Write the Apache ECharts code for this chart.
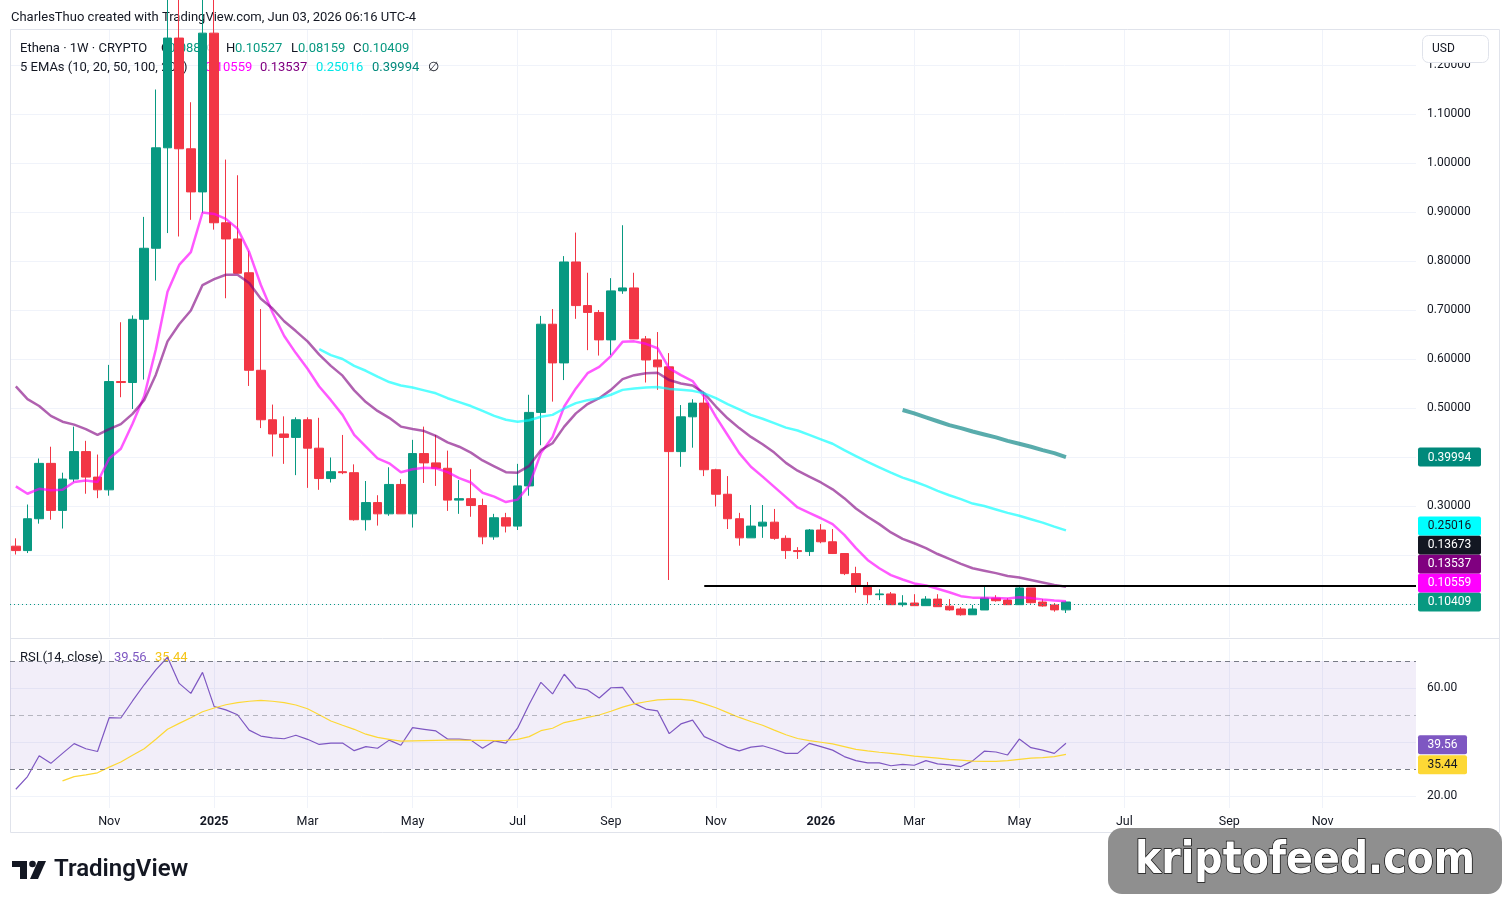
<!DOCTYPE html>
<html>
<head>
<meta charset="utf-8">
<title>Ethena 1W</title>
<script src="https://cdn.jsdelivr.net/npm/echarts@6/dist/echarts.min.js"></script>
<style>
html,body{margin:0;padding:0;background:#fff;}
#chart{width:1504px;height:904px;}
</style>
</head>
<body>
<div id="chart"></div>
<script>
// weekly bars, first bar = week of 2024-09-09
var firstWeek = Date.UTC(2024, 8, 9);
var weekSlots = 121;
var monthNames = ['Jan','Feb','Mar','Apr','May','Jun','Jul','Aug','Sep','Oct','Nov','Dec'];

var open = [0.218,0.209,0.274,0.387,0.291,0.355,0.411,0.359,0.333,0.554,
	0.552,0.681,0.826,1.031,1.255,1.029,0.941,1.265,0.878,0.845,
	0.776,0.577,0.476,0.447,0.440,0.476,0.418,0.356,0.370,0.368,
	0.272,0.307,0.284,0.344,0.284,0.407,0.388,0.377,0.312,0.315,
	0.301,0.237,0.276,0.259,0.341,0.491,0.671,0.592,0.798,0.709,
	0.695,0.639,0.739,0.745,0.641,0.598,0.584,0.411,0.482,0.510,
	0.374,0.324,0.274,0.235,0.259,0.267,0.234,0.209,0.207,0.251,
	0.227,0.203,0.162,0.136,0.119,0.1205,0.0986,0.102,0.0966,0.110,
	0.0955,0.0898,0.078,0.0878,0.112,0.108,0.0986,0.1327,0.104,0.098,
	0.08803];
var high = [0.234,0.303,0.397,0.421,0.368,0.462,0.433,0.405,0.588,0.675,
	0.689,0.890,1.150,1.350,1.350,1.124,1.350,1.350,1.007,0.975,
	0.820,0.702,0.507,0.483,0.481,0.481,0.480,0.399,0.445,0.385,
	0.351,0.322,0.379,0.355,0.435,0.462,0.445,0.413,0.353,0.375,
	0.315,0.284,0.286,0.386,0.527,0.688,0.702,0.810,0.858,0.776,
	0.700,0.765,0.873,0.776,0.647,0.655,0.612,0.506,0.518,0.533,
	0.376,0.361,0.286,0.302,0.302,0.294,0.240,0.216,0.253,0.263,
	0.253,0.204,0.176,0.145,0.130,0.1245,0.118,0.120,0.116,0.120,
	0.110,0.0939,0.098,0.135,0.118,0.112,0.1388,0.1327,0.110,0.102,
	0.10527];
var low = [0.201,0.204,0.264,0.272,0.254,0.349,0.325,0.316,0.321,0.522,
	0.498,0.558,0.760,0.857,0.850,0.884,0.898,0.864,0.724,0.775,
	0.545,0.459,0.401,0.386,0.363,0.337,0.333,0.348,0.365,0.270,
	0.250,0.260,0.280,0.284,0.256,0.347,0.341,0.290,0.284,0.278,
	0.222,0.231,0.246,0.251,0.321,0.424,0.513,0.557,0.682,0.618,
	0.607,0.608,0.733,0.641,0.552,0.537,0.149,0.380,0.419,0.361,
	0.299,0.253,0.219,0.235,0.235,0.231,0.192,0.192,0.198,0.224,
	0.202,0.159,0.123,0.101,0.108,0.0986,0.0945,0.0966,0.0966,0.0945,
	0.0864,0.0762,0.078,0.0878,0.1047,0.0986,0.0986,0.1006,0.0945,0.0843,
	0.08159];
var close = [0.209,0.274,0.387,0.291,0.355,0.411,0.359,0.333,0.554,0.552,
	0.681,0.826,1.031,1.255,1.029,0.941,1.265,0.878,0.845,0.775,
	0.577,0.476,0.447,0.440,0.476,0.418,0.356,0.370,0.368,0.272,
	0.307,0.284,0.344,0.284,0.407,0.388,0.377,0.312,0.315,0.301,
	0.237,0.276,0.259,0.341,0.491,0.671,0.592,0.798,0.709,0.695,
	0.639,0.739,0.745,0.641,0.598,0.584,0.411,0.482,0.510,0.374,
	0.324,0.274,0.235,0.259,0.267,0.234,0.209,0.207,0.251,0.227,
	0.203,0.162,0.136,0.119,0.1205,0.0986,0.102,0.0966,0.110,0.0945,
	0.088,0.078,0.0898,0.1122,0.1067,0.0986,0.1327,0.1027,0.096,0.088,
	0.10409];

var ema10 = [0.340,0.325,0.335,0.332,0.333,0.349,0.352,0.349,0.397,0.417,
	0.468,0.524,0.620,0.737,0.792,0.818,0.899,0.896,0.886,0.866,
	0.818,0.751,0.695,0.647,0.612,0.580,0.544,0.516,0.486,0.445,
	0.421,0.397,0.387,0.369,0.375,0.378,0.377,0.369,0.357,0.348,
	0.327,0.319,0.308,0.313,0.342,0.408,0.441,0.503,0.540,0.571,
	0.584,0.606,0.635,0.636,0.631,0.622,0.581,0.567,0.555,0.523,
	0.482,0.445,0.408,0.380,0.360,0.339,0.318,0.297,0.286,0.275,
	0.263,0.241,0.214,0.190,0.173,0.159,0.150,0.142,0.138,0.131,
	0.124,0.116,0.113,0.113,0.112,0.111,0.114,0.112,0.109,0.107,
	0.10559];
var ema20 = [0.544,0.518,0.504,0.484,0.472,0.466,0.457,0.445,0.457,0.467,
	0.488,0.516,0.568,0.636,0.671,0.699,0.751,0.763,0.772,0.772,
	0.755,0.723,0.703,0.677,0.657,0.636,0.609,0.586,0.566,0.536,
	0.512,0.494,0.480,0.462,0.457,0.453,0.443,0.430,0.421,0.409,
	0.393,0.381,0.369,0.368,0.382,0.414,0.428,0.462,0.489,0.508,
	0.520,0.537,0.559,0.567,0.571,0.572,0.557,0.550,0.546,0.530,
	0.503,0.479,0.459,0.441,0.426,0.409,0.388,0.372,0.360,0.348,
	0.334,0.316,0.295,0.278,0.263,0.246,0.233,0.224,0.214,0.202,
	0.192,0.182,0.173,0.168,0.163,0.157,0.154,0.149,0.144,0.139,
	0.13537];
var ema50Start = 26;
var ema50 = [0.620,0.608,0.600,0.586,
	0.576,0.564,0.553,0.546,0.542,0.536,0.530,0.520,0.512,0.504,
	0.494,0.484,0.476,0.472,0.475,0.482,0.486,0.499,0.510,0.516,
	0.520,0.527,0.537,0.540,0.542,0.543,0.539,0.537,0.535,0.530,
	0.520,0.508,0.497,0.486,0.478,0.469,0.460,0.454,0.445,0.436,
	0.427,0.414,0.402,0.390,0.379,0.368,0.358,0.350,0.341,0.331,
	0.322,0.314,0.305,0.300,0.293,0.286,0.280,0.273,0.266,0.258,
	0.25016];
var ema100Start = 76;
var ema100 = [0.496,0.489,0.481,0.473,
	0.465,0.459,0.452,0.446,0.440,0.433,0.427,0.421,0.414,0.408,
	0.39994];

var rsi = [22.5,27.2,34.9,32.1,35.8,39.4,37.5,36.5,49.0,48.9,
	55.2,61.2,66.7,71.4,61.7,58.0,65.8,53.1,51.9,50.1,
	44.4,42.2,41.5,41.2,42.5,41.0,39.1,39.6,39.6,36.8,
	38.3,37.7,40.7,38.8,45.3,44.7,44.1,41.1,41.1,40.7,
	37.7,40.4,39.6,45.1,54.0,62.1,57.8,65.1,60.1,59.3,
	56.3,60.1,60.2,54.3,52.2,51.5,43.1,46.7,48.1,42.0,
	40.1,38.0,36.7,38.1,38.6,37.3,35.8,35.8,39.5,38.3,
	37.0,34.6,33.1,32.3,32.3,31.2,31.7,31.4,33.1,31.9,
	31.5,30.9,33.0,36.6,36.3,35.2,41.1,37.9,37.0,35.8,
	39.56];
var rsiMaStart = 4;
var rsiMa = [25.6,27.2,27.8,28.6,30.7,32.6,
	35.1,37.5,41.0,44.7,46.9,49.0,51.2,52.6,53.8,54.6,
	55.1,55.4,55.1,54.6,53.7,52.3,50.1,47.8,46.2,44.7,
	42.9,41.7,41.0,40.3,40.4,40.5,40.6,40.7,40.7,40.6,
	40.6,40.5,40.6,41.0,42.0,44.2,45.1,47.2,48.1,49.1,
	50.0,51.4,52.9,54.1,54.9,55.6,55.8,55.8,55.4,54.1,
	52.7,50.9,49.1,47.6,46.2,44.4,42.7,41.3,40.5,39.9,
	39.3,38.3,37.3,36.7,36.2,35.8,35.3,34.8,34.4,34.0,
	33.6,33.3,32.9,32.8,32.8,33.1,33.6,34.0,34.2,34.6,
	35.44];

var rayLevel = 0.13673;
var rayStart = 59;
var priceGrid = [0.1,0.2,0.3,0.4,0.5,0.6,0.7,0.8,0.9,1.0,1.1,1.2];
var priceLabels = [0.3,0.5,0.6,0.7,0.8,0.9,1.0,1.1,1.2];
var rsiGrid = [20,40,60];
var rsiLabels = [20,60];

var FONT = 'Roboto, "Liberation Sans", sans-serif';
var GREEN = '#089981', RED = '#f23645';

var weeks = [];
for (var i = 0; i < weekSlots; i++) {
	weeks.push(new Date(firstWeek + i * 7 * 864e5));
}
// month labels: first bar of Jan, Mar, May, Jul, Sep, Nov
var labelIdx = [];
for (var i = 0; i < weeks.length; i++) {
	if (weeks[i].getUTCDate() <= 7 && weeks[i].getUTCMonth() % 2 === 0) labelIdx.push(i);
}

var candles = [];
for (var i = 0; i < close.length; i++) {
	candles.push([i, open[i], close[i], low[i], high[i]]);
}
function pairs(arr, start) {
	var out = [];
	for (var i = 0; i < arr.length; i++) out.push([start + i, arr[i]]);
	return out;
}

function xAxisCfg(grid, labels) {
	return {
		type: 'value', gridIndex: grid, min: -0.5, max: 120,
		axisLine: {show: false},
		axisTick: {show: false, customValues: labelIdx},
		splitLine: {show: true, lineStyle: {color: '#f0f3fa', width: 1}},
		axisLabel: {
			show: labels, customValues: labelIdx, margin: 7,
			color: '#131722', fontSize: 12.5, fontFamily: FONT,
			formatter: function (v) {
				var d = weeks[Math.round(v)];
				if (d.getUTCMonth() === 0) return '{y|' + d.getUTCFullYear() + '}';
				return monthNames[d.getUTCMonth()];
			},
			rich: {y: {fontWeight: 'bold', fontSize: 12.5, color: '#131722', fontFamily: FONT}}
		}
	};
}

var chart = echarts.init(document.getElementById('chart'));
var option = {
	animation: false,
	backgroundColor: '#ffffff',
	textStyle: {fontFamily: FONT},
	grid: [
		{left: 10, top: 30, width: 1406, height: 607},
		{left: 10, top: 640, width: 1406, height: 168}
	],
	xAxis: [xAxisCfg(0, false), xAxisCfg(1, true)],
	yAxis: [
		{
			type: 'value', gridIndex: 0, position: 'right', min: 0.03265, max: 1.27143,
			axisLine: {show: false},
			axisTick: {show: false, customValues: priceGrid},
			splitLine: {lineStyle: {color: '#f0f3fa'}},
			axisLabel: {customValues: priceLabels, margin: 11, color: '#131722', fontSize: 12, fontFamily: FONT,
				formatter: function (v) { return v.toFixed(5); }}
		},
		{
			type: 'value', gridIndex: 1, position: 'right', min: 15.56, max: 77.78,
			axisLine: {show: false},
			axisTick: {show: false, customValues: rsiGrid},
			splitLine: {lineStyle: {color: '#f0f3fa'}},
			axisLabel: {customValues: rsiLabels, margin: 11, color: '#131722', fontSize: 12, fontFamily: FONT,
				formatter: function (v) { return v.toFixed(2); }}
		}
	],
	series: [
		{
			type: 'candlestick', name: 'Ethena', xAxisIndex: 0, yAxisIndex: 0,
			data: candles, encode: {x: 0, y: [1, 2, 3, 4]},
			barWidth: 9, clip: true,
			itemStyle: {color: GREEN, color0: RED, borderColor: GREEN, borderColor0: RED, borderWidth: 1},
			markLine: {
				silent: true, symbol: 'none', label: {show: false},
				lineStyle: {color: GREEN, type: [1, 3], width: 1},
				data: [{yAxis: close[close.length - 1]}]
			}
		},
		{type: 'line', name: 'EMA10', data: pairs(ema10, 0), showSymbol: false,
			lineStyle: {color: 'rgba(255,0,255,0.65)', width: 2.5}, itemStyle: {color: '#ff00ff'}},
		{type: 'line', name: 'EMA20', data: pairs(ema20, 0), showSymbol: false,
			lineStyle: {color: 'rgba(128,0,128,0.62)', width: 2.5}, itemStyle: {color: '#800080'}},
		{type: 'line', name: 'EMA50', data: pairs(ema50, ema50Start), showSymbol: false,
			lineStyle: {color: 'rgba(0,255,255,0.65)', width: 2.5}, itemStyle: {color: '#00ffff'}},
		{type: 'line', name: 'EMA100', data: pairs(ema100, ema100Start), showSymbol: false,
			lineStyle: {color: 'rgba(0,128,128,0.65)', width: 4}, itemStyle: {color: '#008080'}},
		{type: 'line', name: 'level', data: [[rayStart, rayLevel], [120, rayLevel]], showSymbol: false,
			lineStyle: {color: '#000000', width: 2}, silent: true},
		{
			type: 'line', name: 'RSI', xAxisIndex: 1, yAxisIndex: 1, data: pairs(rsi, 0), showSymbol: false,
			lineStyle: {color: '#7e57c2', width: 1.2}, itemStyle: {color: '#7e57c2'},
			markArea: {silent: true, itemStyle: {color: 'rgba(126,87,194,0.1)'}, data: [[{yAxis: 30}, {yAxis: 70}]]},
			markLine: {
				silent: true, symbol: 'none', label: {show: false},
				data: [
					{yAxis: 70, lineStyle: {color: '#787b86', type: [5, 4], width: 1}},
					{yAxis: 50, lineStyle: {color: 'rgba(120,123,134,0.5)', type: [5, 4], width: 1}},
					{yAxis: 30, lineStyle: {color: '#787b86', type: [5, 4], width: 1}}
				]
			}
		},
		{type: 'line', name: 'RSI MA', xAxisIndex: 1, yAxisIndex: 1, data: pairs(rsiMa, rsiMaStart), showSymbol: false,
			lineStyle: {color: '#fdd835', width: 1.2}, itemStyle: {color: '#fdd835'}}
	]
};
chart.setOption(option);

function txt(x, y, s, color, size, weight) {
	return {type: 'text', z: 1, silent: true, style: {
		x: x, y: y + 1.5, text: s, fill: color,
		font: (weight || 'normal') + ' ' + (size || 13) + 'px ' + FONT,
		textVerticalAlign: 'middle', verticalAlign: 'middle', textAlign: 'left', align: 'left'
	}};
}
function tag(x, y, w, s, bg, fg) {
	return [
		{type: 'rect', z: 20, silent: true, shape: {x: x, y: y - 9.5, width: w, height: 19, r: 2}, style: {fill: bg}},
		{type: 'text', z: 21, silent: true, style: {x: x + w / 2, y: y + 0.5, text: s, fill: fg,
			font: '12px ' + FONT, textAlign: 'center', align: 'center', textVerticalAlign: 'middle', verticalAlign: 'middle'}}
	];
}

var g = [];
// frame and pane divider
g.push({type: 'rect', z: 0, silent: true, shape: {x: 10.5, y: 29.5, width: 1489, height: 803}, style: {fill: 'none', stroke: '#e0e3eb', lineWidth: 1}});
g.push({type: 'line', z: 0, silent: true, shape: {x1: 10, y1: 638.5, x2: 1500, y2: 638.5}, style: {stroke: '#e0e3eb', lineWidth: 1}});

g.push(txt(11, 16, 'CharlesThuo created with TradingView.com, Jun 03, 2026 06:16 UTC-4', '#131722', 13));
g.push(txt(20, 47, 'Ethena · 1W · CRYPTO', '#131722', 13));
g.push(txt(161, 47, 'O', '#131722', 13));
g.push(txt(168, 47, open[open.length - 1].toFixed(5), GREEN, 13));
g.push(txt(226, 47, 'H', '#131722', 13));
g.push(txt(235, 47, high[high.length - 1].toFixed(5), GREEN, 13));
g.push(txt(291, 47, 'L', '#131722', 13));
g.push(txt(298, 47, low[low.length - 1].toFixed(5), GREEN, 13));
g.push(txt(353, 47, 'C', '#131722', 13));
g.push(txt(362, 47, close[close.length - 1].toFixed(5), GREEN, 13));
g.push(txt(20, 66, '5 EMAs (10, 20, 50, 100, 200)', '#131722', 13));
g.push(txt(205, 66, ema10[ema10.length - 1].toFixed(5), '#ff00ff', 13));
g.push(txt(260, 66, ema20[ema20.length - 1].toFixed(5), '#800080', 13));
g.push(txt(316, 66, ema50[ema50.length - 1].toFixed(5), '#00e6e6', 13));
g.push(txt(372, 66, ema100[ema100.length - 1].toFixed(5), '#00897b', 13));
g.push(txt(428, 66, '\u2205', '#131722', 13));
g.push(txt(20, 656, 'RSI (14, close)', '#131722', 13));
g.push(txt(114, 656, rsi[rsi.length - 1].toFixed(2), '#7e57c2', 13));
g.push(txt(155, 656, rsiMa[rsiMa.length - 1].toFixed(2), '#f5c518', 13));

// USD box
g.push({type: 'rect', z: 20, silent: true, shape: {x: 1422.5, y: 35.5, width: 66, height: 27, r: 6}, style: {fill: '#fff', stroke: '#e0e3eb'}});
g.push({type: 'text', z: 21, silent: true, style: {x: 1432, y: 49, text: 'USD', fill: '#131722', font: '12px ' + FONT, textVerticalAlign: 'middle', verticalAlign: 'middle'}});

// price tags, stacked upward from the lowest
var priceTags = [
	[close[close.length - 1], GREEN, '#fff'],
	[ema10[ema10.length - 1], '#ff00ff', '#fff'],
	[ema20[ema20.length - 1], '#800080', '#fff'],
	[rayLevel, '#131722', '#fff'],
	[ema50[ema50.length - 1], '#00ffff', '#131722'],
	[ema100[ema100.length - 1], '#00897b', '#fff']
];
var prevY = 1e9;
priceTags.forEach(function (t) {
	var y = chart.convertToPixel({yAxisIndex: 0}, t[0]);
	y = Math.min(y, prevY - 19);
	prevY = y;
	g = g.concat(tag(1418, y, 63, t[0].toFixed(5), t[1], t[2]));
});
// rsi tags, stacked downward
var rsiTags = [
	[rsi[rsi.length - 1], '#7e57c2', '#fff'],
	[rsiMa[rsiMa.length - 1], '#fdd835', '#131722']
];
var lastY = -1e9;
rsiTags.forEach(function (t) {
	var y = chart.convertToPixel({yAxisIndex: 1}, t[0]) + 1.5;
	y = Math.max(y, lastY + 20);
	lastY = y;
	g = g.concat(tag(1418, y, 49, t[0].toFixed(2), t[1], t[2]));
});

// TradingView logo
g.push({type: 'rect', z: 5, silent: true, shape: {x: 12, y: 861, width: 15, height: 6}, style: {fill: '#131722'}});
g.push({type: 'rect', z: 5, silent: true, shape: {x: 20, y: 861, width: 7, height: 18}, style: {fill: '#131722'}});
g.push({type: 'circle', z: 5, silent: true, shape: {cx: 32.5, cy: 864, r: 3.3}, style: {fill: '#131722'}});
g.push({type: 'polygon', z: 5, silent: true, shape: {points: [[38, 861], [46, 861], [38, 879], [30, 879]]}, style: {fill: '#131722'}});
g.push(txt(54, 868.5, 'TradingView', '#131722', 24, '600'));

// watermark
g.push({type: 'rect', z: 30, silent: true, shape: {x: 1108, y: 828, width: 394, height: 66, r: 14}, style: {fill: '#8f8f8f'}});
g.push({type: 'text', z: 31, silent: true, style: {
	x: 1305, y: 862, text: 'kriptofeed.com', fill: '#ffffff',
	font: 'bold 44px "DejaVu Sans Condensed", "DejaVu Sans", sans-serif',
	stroke: '#111', lineWidth: 1.5,
	shadowColor: '#000', shadowOffsetX: 3, shadowOffsetY: 3, shadowBlur: 0,
	textAlign: 'center', align: 'center', textVerticalAlign: 'middle', verticalAlign: 'middle'
}});

chart.setOption({graphic: {elements: g}});
</script>
</body>
</html>
